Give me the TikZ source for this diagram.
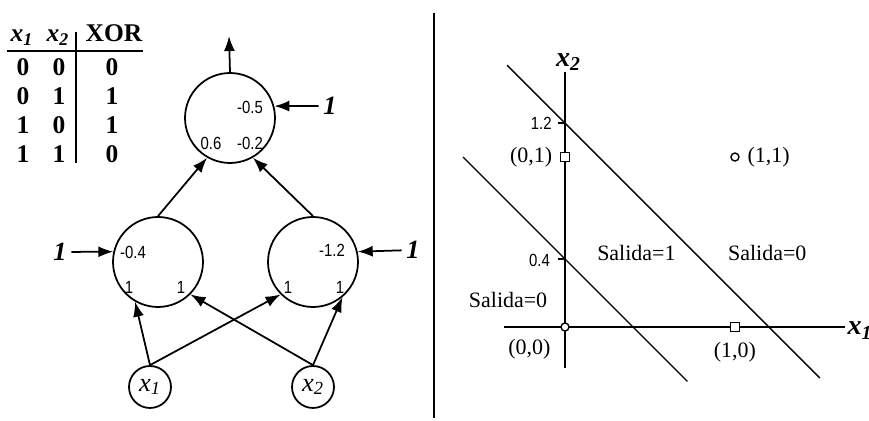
\documentclass[tikz,border=0pt]{standalone}
\usepackage{fontspec}
\setmainfont{Liberation Serif}
\newfontfamily\narrowfont[FakeStretch=0.85]{Liberation Sans}
\usepackage{xcolor}
\definecolor{cInk}{HTML}{000000}
\usepackage{tikz}
\usetikzlibrary{positioning,arrows.meta}
\newcommand{\fsz}[1]{\fontsize{#1}{#1}\selectfont}
\tikzset{
  node-neuron/.style={draw=cInk,line width=1pt,circle,minimum size=1.8cm,inner sep=0pt},
  node-input/.style={draw=cInk,line width=1pt,circle,minimum size=0.84cm,inner sep=0pt,
    font=\fsz{15}\itshape},
  node-weight/.style={inner sep=0pt,font=\narrowfont\fsz{10}},
  node-bias/.style={inner sep=2.5pt,font=\fsz{15}\bfseries\itshape},
  node-cell/.style={inner sep=0pt,font=\fsz{14.5}\bfseries},
  node-plot/.style={inner sep=0pt,font=\fsz{12.5}},
  node-axis/.style={inner sep=0pt,font=\fsz{16}\bfseries\itshape},
  mark-sq/.style={draw=cInk,fill=white,line width=0.8pt,rectangle,minimum size=0.17cm,inner sep=0pt},
  mark-dot/.style={draw=cInk,fill=white,line width=0.8pt,circle,minimum size=0.16cm,inner sep=0pt},
  arrow/.style={-{Latex[length=3mm,width=2.2mm]},line width=1pt,draw=cInk},
  rule/.style={line width=1pt,draw=cInk},
  axis/.style={line width=1pt,draw=cInk},
  boundary/.style={line width=0.8pt,draw=cInk},
}

\begin{document}
\begin{tikzpicture}[x=0.02cm,y=-0.02cm,node distance=1.5mm]
  \useasboundingbox (0,0) rectangle (869,421);

  % tabla XOR
  \node[node-cell,anchor=base,font=\fsz{14.5}\bfseries\itshape] (t-x1) at (22,42) {x\textsubscript{1}};
  \node[node-cell,anchor=base,font=\fsz{14.5}\bfseries\itshape] (t-x2) at (58,42) {x\textsubscript{2}};
  \node[node-cell,anchor=base] (t-xor) at (114,42) {XOR};
  \foreach \a/\b/\c [count=\i] in {0/0/0,0/1/1,1/0/1,1/1/0} {
    \node[node-cell] (t-\i a) at (23,38+29*\i) {\a};
    \node[node-cell] (t-\i b) at (59,38+29*\i) {\b};
    \node[node-cell] (t-\i c) at (112,38+29*\i) {\c};
  }
  \draw[rule] (7,51) -- (143,51);
  \draw[rule] (76,32) -- (76,163);

  % red
  \node[node-neuron] (out) at (230,118) {};
  \node[node-neuron] (h1) at (158,262) {};
  \node[node-neuron] (h2) at (313,262) {};
  \node[node-input] (in1) at (150,387) {x\textsubscript{1}};
  \node[node-input] (in2) at (313,387) {x\textsubscript{2}};
  \coordinate (y-out) at (229,36);

  \node[node-weight] (w-out-b) at (250,107) {-0.5};
  \node[node-weight] (w-out-1) at (211,143) {0.6};
  \node[node-weight] (w-out-2) at (250,143) {-0.2};
  \node[node-weight] (w-h1-b) at (133,252) {-0.4};
  \node[node-weight] (w-h1-1) at (129,287) {1};
  \node[node-weight] (w-h1-2) at (181,287) {1};
  \node[node-weight] (w-h2-b) at (332,250) {-1.2};
  \node[node-weight] (w-h2-1) at (288,287) {1};
  \node[node-weight] (w-h2-2) at (340,287) {1};

  \node[node-bias] (b-out) at (330,106) {1};
  \node[node-bias] (b-h1) at (60,252) {1};
  \node[node-bias] (b-h2) at (413,250) {1};

  \draw[arrow] (out.north) -- (y-out);
  \draw[arrow] (b-out) -- (out.15);
  \draw[arrow] (b-h1) -- (h1.167);
  \draw[arrow] (b-h2) -- (h2.13);
  \draw[arrow] (h1.north) -- (out.-120);
  \draw[arrow] (h2.north) -- (out.-60);
  \draw[arrow] (in1.north) -- (h1.-120);
  \draw[arrow] (in1.north) -- (h2.-135);
  \draw[arrow] (in2.north) -- (h1.-45);
  \draw[arrow] (in2.north) -- (h2.-50);

  \draw[rule] (434,13) -- (434,418);

  % plano x1-x2
  \begin{scope}[shift={(565,327)},x=3.4cm,y=3.4cm]
    \draw[axis] (-0.36,0) -- (1.65,0);
    \draw[axis] (0,-0.24) -- (0,1.5);
    \node[node-axis] (lab-x1) at (1.735,-0.02) {x\textsubscript{1}};
    \node[node-axis] (lab-x2) at (0.02,1.56) {x\textsubscript{2}};
    \draw[boundary] (-0.34,1.54) -- (1.5,-0.3);
    \draw[boundary] (-0.6,1.0) -- (0.72,-0.32);
    \draw[axis] (-0.04,1.2) -- (0,1.2);
    \draw[axis] (-0.04,0.4) -- (0,0.4);
    \node[node-weight] (tk-12) at (-0.14,1.2) {1.2};
    \node[node-weight] (tk-04) at (-0.15,0.39) {0.4};
    \node[mark-sq] (p01) at (0,1) {};
    \node[mark-sq] (p10) at (1,0) {};
    \node[mark-dot] (p00) at (0,0) {};
    \node[mark-dot] (p11) at (1,1) {};
    \node[node-plot,left=of p01] (l01) {(0,1)};
    \node[node-plot,right=of p11] (l11) {(1,1)};
    \node[node-plot] (l00) at (-0.21,-0.13) {(0,0)};
    \node[node-plot,below=2mm of p10] (l10) {(1,0)};
    \node[node-plot] (s1) at (0.42,0.435) {Salida=1};
    \node[node-plot] (s0a) at (1.19,0.435) {Salida=0};
    \node[node-plot] (s0b) at (-0.335,0.16) {Salida=0};
  \end{scope}
\end{tikzpicture}
\end{document}
